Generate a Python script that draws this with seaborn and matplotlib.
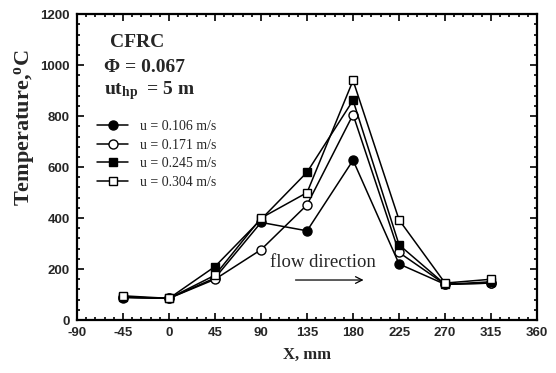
import matplotlib
matplotlib.use("Agg")
import matplotlib.pyplot as plt
from matplotlib.ticker import MultipleLocator
import seaborn as sns
import pandas as pd

# Axial positions along the bed (mm)
x_mm = [-45, 0, 45, 90, 135, 180, 225, 270, 315]

# Temperature profiles (deg C) for each superficial velocity
t_0106 = [88, 85, 165, 383, 350, 627, 220, 140, 145]
t_0171 = [90, 85, 160, 276, 452, 806, 265, 140, 145]
t_0245 = [90, 85, 210, 395, 580, 862, 295, 140, 150]
t_0304 = [95, 85, 176, 400, 500, 940, 393, 145, 160]

labels = ["u = 0.106 m/s", "u = 0.171 m/s", "u = 0.245 m/s", "u = 0.304 m/s"]
series = [t_0106, t_0171, t_0245, t_0304]
markers = ["o", "o", "s", "s"]
fills = ["black", "white", "black", "white"]

sns.set_theme(style="ticks")
plt.rcParams["font.family"] = ["DejaVu Sans"]
plt.rcParams["axes.unicode_minus"] = False
plt.rcParams["mathtext.fontset"] = "custom"
plt.rcParams["mathtext.rm"] = "Liberation Serif"
plt.rcParams["mathtext.it"] = "Liberation Serif:italic"
plt.rcParams["mathtext.bf"] = "Liberation Serif:bold"

fig = plt.figure(figsize=(5.56, 3.73), dpi=100)
ax = fig.add_axes([0.1385, 0.142, 0.8275, 0.820])

for lab, vals, mk, fc in zip(labels, series, markers, fills):
    df = pd.DataFrame({"X": x_mm, "T": vals})
    sns.lineplot(data=df, x="X", y="T", ax=ax, color="black", lw=1.1,
                 marker=mk, markersize=6.5 if mk == "o" else 6,
                 markerfacecolor=fc, markeredgecolor="black",
                 markeredgewidth=1.0, label=lab)

ax.set_xlim(-90, 360)
ax.set_ylim(0, 1200)
ax.xaxis.set_major_locator(MultipleLocator(45))
ax.xaxis.set_minor_locator(MultipleLocator(9))
ax.yaxis.set_major_locator(MultipleLocator(200))
ax.yaxis.set_minor_locator(MultipleLocator(40))
ax.tick_params(which="both", direction="in", top=True, right=True,
               color="black", width=1.2)
ax.tick_params(which="major", length=5, labelsize=9.5, pad=5)
ax.tick_params(which="minor", length=2.5)
for lbl in ax.get_xticklabels() + ax.get_yticklabels():
    lbl.set_fontfamily("Liberation Sans")
    lbl.set_fontweight("bold")
for sp in ax.spines.values():
    sp.set_linewidth(1.6)
    sp.set_color("black")

ax.set_xlabel("X, mm", fontfamily="Liberation Serif", fontweight="bold",
              fontsize=12, labelpad=6)
ax.set_ylabel("Temperature,$^{\\mathbf{o}}$C", fontfamily="Liberation Serif",
              fontweight="bold", fontsize=16)
ax.yaxis.set_label_coords(-0.088, 0.63)

ax.text(-58, 1090, "CFRC", fontfamily="Liberation Serif", fontweight="bold",
        fontsize=14, va="center")
ax.text(-64, 992, "\u03a6 = 0.067", fontfamily="Liberation Serif",
        fontweight="bold", fontsize=14, va="center")
ax.text(-64, 900, "ut$_{\\mathbf{hp}}$  = 5 m", fontfamily="Liberation Serif",
        fontweight="bold", fontsize=14, va="center")

leg = ax.legend(loc="upper left", bbox_to_anchor=(0.017, 0.695), frameon=False,
                prop={"family": "Liberation Serif", "size": 10},
                handlelength=2.2, handletextpad=0.9, labelspacing=0.4)

ax.text(151, 224, "flow direction", fontfamily="Liberation Serif",
        fontsize=13.5, ha="center", va="center")
ax.annotate("", xy=(193, 157), xytext=(121, 157),
            arrowprops=dict(arrowstyle="->", color="black", lw=0.9))

fig.savefig("out.png", dpi=100)
